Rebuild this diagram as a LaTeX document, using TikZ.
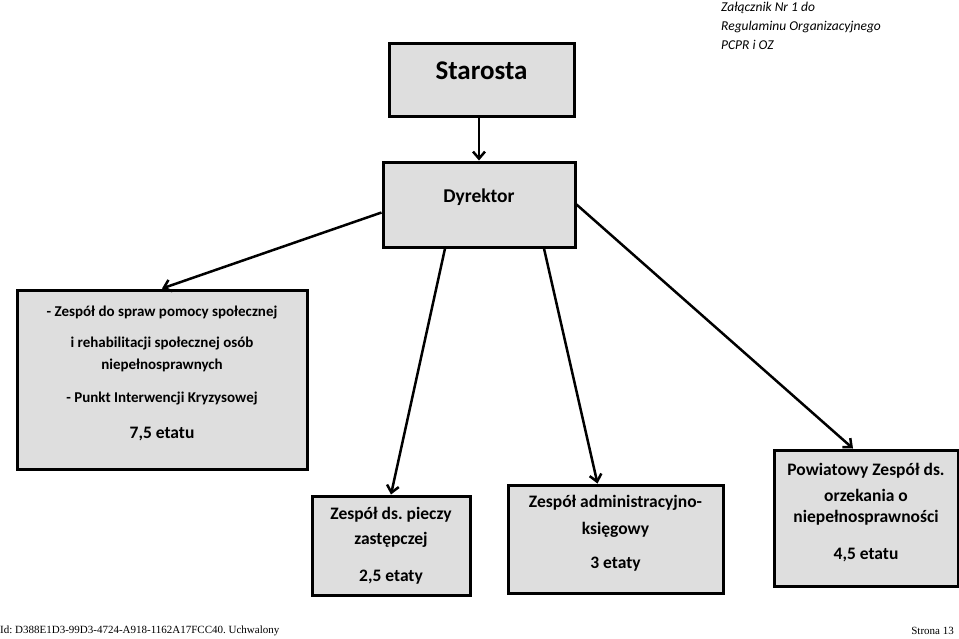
\documentclass[tikz,border=0pt]{standalone}
\usepackage{fontspec}
\setmainfont{Carlito}
\newfontfamily\footfont{Liberation Serif}
\usetikzlibrary{arrows.meta,calc}
\frenchspacing
\tikzset{
  box/.style={draw=black, line width=3pt, fill=boxgray, inner sep=0pt},
  txt/.style={font=\bfseries\fontsize{17.5}{20}\selectfont, inner sep=0pt, anchor=center},
  ltxt/.style={font=\bfseries\fontsize{15}{18}\selectfont, inner sep=0pt, anchor=center},
  amt/.style={font=\bfseries\fontsize{17.5}{20}\selectfont, inner sep=0pt, anchor=center},
  conn/.style={line width=2.5pt, -{Straight Barb[length=7pt,width=12pt,line width=2.5pt]}},
  hdr/.style={font=\itshape\fontsize{13.5}{15}\selectfont, inner sep=0pt, anchor=base west},
  foot/.style={font=\footfont\fontsize{11}{13}\selectfont, inner sep=0pt},
}
\definecolor{boxgray}{HTML}{DEDEDE}
\begin{document}
\begin{tikzpicture}[x=1pt,y=-1pt]
\useasboundingbox (0,0) rectangle (959,638);
% header
\node[hdr] (h1) at (721,11.5) {Załącznik Nr 1 do};
\node[hdr] (h2) at (721,30.5) {Regulaminu Organizacyjnego};
\node[hdr] (h3) at (721,49.5) {PCPR i OZ};
% boxes
\node[box, minimum width=185pt, minimum height=73pt] (sta) at (481.5,79.5) {};
\node[box, minimum width=192pt, minimum height=85pt] (dyr) at (479,204.5) {};
\node[box, minimum width=290pt, minimum height=179pt] (zsp) at (162,379.5) {};
\node[box, minimum width=158pt, minimum height=99pt] (pie) at (391,545.5) {};
\node[box, minimum width=215pt, minimum height=108pt] (adm) at (615.5,539) {};
\node[box, minimum width=184pt, minimum height=136pt] (pow) at (866,518) {};
% texts
\node[font=\bfseries\fontsize{27}{30}\selectfont, inner sep=0pt] (st) at (481.5,71) {Starosta};
\node[font=\bfseries\fontsize{19.5}{22}\selectfont, inner sep=0pt] (dt) at (479,197) {Dyrektor};
\node[ltxt] (z1) at (162,312) {- Zespół do spraw pomocy społecznej};
\node[ltxt] (z2) at (162,343) {i rehabilitacji społecznej osób};
\node[ltxt] (z3) at (162,365) {niepełnosprawnych};
\node[ltxt] (z4) at (162,398) {- Punkt Interwencji Kryzysowej};
\node[amt] (z5) at (162,434) {7,5 etatu};
\node[txt] (p1) at (391,515) {Zespół ds. pieczy};
\node[txt] (p2) at (391,540) {zastępczej};
\node[amt] (p3) at (391,577) {2,5 etaty};
\node[txt] (a1) at (615.5,503) {Zespół administracyjno-};
\node[txt] (a2) at (615.5,530) {księgowy};
\node[amt] (a3) at (615.5,564) {3 etaty};
\node[txt] (w1) at (866,471) {Powiatowy Zespół ds.};
\node[txt] (w2) at (866,495) {orzekania o};
\node[txt] (w3) at (866,518) {niepełnosprawności};
\node[amt] (w4) at (866,555) {4,5 etatu};
% connectors
\draw[conn] (dyr.north |- sta.south) -- (dyr.north);
\draw[conn] ($(dyr.west)+(0,8)$) -- (zsp.north);
\draw[conn] ($(dyr.south)+(-34,0)$) -- (pie.north);
\draw[conn] ($(dyr.south)+(65,0)$) -- ($(adm.north)+(-18,0)$);
\draw[conn] (dyr.east) -- ($(pow.north)+(-13,0)$);
% footer
\node[foot, anchor=west] (f1) at (0,631) {Id: D388E1D3-99D3-4724-A918-1162A17FCC40. Uchwalony};
\node[foot, anchor=east] (f2) at (954,631) {Strona 13};
\end{tikzpicture}
\end{document}
